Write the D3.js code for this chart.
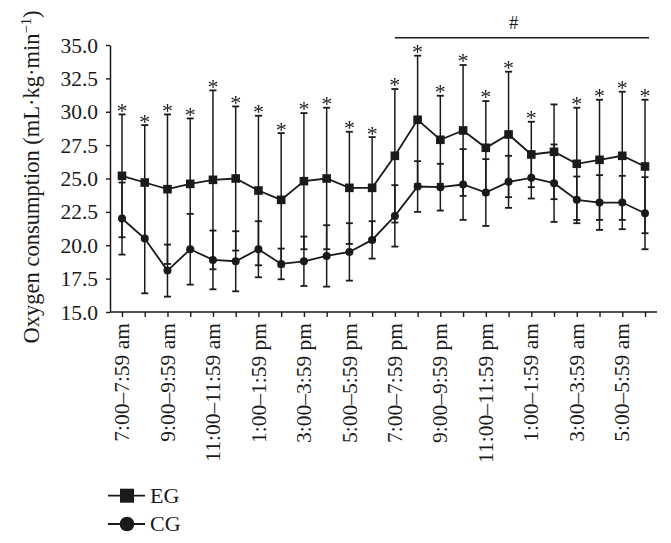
<!DOCTYPE html>
<html>
<head>
<meta charset="utf-8">
<script src="https://cdn.jsdelivr.net/npm/d3@7"></script>
<style>
  html, body { margin: 0; padding: 0; background: #fff; }
  svg { display: block; font-family: "Liberation Serif", "Times New Roman", serif; }
</style>
</head>
<body>
<svg id="chart" width="671" height="543"></svg>
<script>
// ---- data ----
const categories = [
  "7:00–7:59 am", "8:00–8:59 am", "9:00–9:59 am", "10:00–10:59 am",
  "11:00–11:59 am", "12:00–12:59 pm", "1:00–1:59 pm", "2:00–2:59 pm",
  "3:00–3:59 pm", "4:00–4:59 pm", "5:00–5:59 pm", "6:00–6:59 pm",
  "7:00–7:59 pm", "8:00–8:59 pm", "9:00–9:59 pm", "10:00–10:59 pm",
  "11:00–11:59 pm", "12:00–12:59 am", "1:00–1:59 am", "2:00–2:59 am",
  "3:00–3:59 am", "4:00–4:59 am", "5:00–5:59 am", "6:00–6:59 am"
];
const egMean = [25.2, 24.7, 24.2, 24.6, 24.9, 25.0, 24.1, 23.4, 24.8, 25.0, 24.3, 24.3,
                26.7, 29.4, 27.9, 28.6, 27.3, 28.3, 26.8, 27.0, 26.1, 26.4, 26.7, 25.9];
const egSD   = [4.6, 4.3, 5.6, 4.9, 6.7, 5.4, 5.6, 5.0, 5.1, 5.3, 4.2, 3.8,
                5.0, 4.8, 3.3, 4.9, 3.5, 4.7, 2.45, 3.55, 4.2, 4.5, 4.8, 5.0];
const cgMean = [22.0, 20.5, 18.1, 19.7, 18.9, 18.8, 19.7, 18.6, 18.8, 19.2, 19.5, 20.4,
                22.2, 24.4, 24.35, 24.55, 23.95, 24.75, 25.05, 24.65, 23.4, 23.2, 23.2, 22.4];
const cgSD   = [2.7, 4.1, 1.95, 2.65, 2.2, 2.25, 2.1, 1.15, 1.85, 2.3, 2.15, 1.4,
                2.3, 1.9, 1.75, 2.65, 2.5, 1.95, 1.55, 2.9, 1.75, 2.05, 2.0, 2.7];
const significant = [1, 1, 1, 1, 1, 1, 1, 1, 1, 1, 1, 1,
                     1, 1, 1, 1, 1, 1, 1, 0, 1, 1, 1, 1];
const yTicks = [15.0, 17.5, 20.0, 22.5, 25.0, 27.5, 30.0, 32.5, 35.0];
const nightStart = "7:00–7:59 pm";
const nightLabel = "#";
const seriesNames = ["EG", "CG"];

// ---- layout ----
const FONT = '"Liberation Serif", "Times New Roman", serif';
const svg = d3.select("#chart");
const ink = "#1a1a1a";
const x = d3.scalePoint().domain(categories).range([122, 645]);
const y = d3.scaleLinear().domain([15, 35]).range([312, 45]);
const axisLeftX = 110, axisRightX = 657;

// grayscale-rendering filter for small glyphs
const defs = svg.append("defs");
defs.append("filter").attr("id", "gray").attr("x", "-50%").attr("y", "-50%").attr("width", "200%").attr("height", "200%")
  .append("feOffset").attr("dx", 0).attr("dy", 0);

// axes
const yAxis = svg.append("g")
  .attr("transform", `translate(${axisLeftX},0)`)
  .call(d3.axisLeft(y).tickValues(yTicks).tickFormat(d3.format(".1f")).tickSize(4).tickPadding(8).tickSizeOuter(0))
  .attr("font-family", FONT);
yAxis.select(".domain").attr("stroke", ink).attr("stroke-width", 1.5);
yAxis.selectAll(".tick line").attr("stroke", ink).attr("stroke-width", 1.4);
yAxis.selectAll(".tick text").attr("font-size", 21.5).attr("fill", ink).attr("dy", "0.33em");

const xAxis = svg.append("g")
  .attr("transform", `translate(0,${y(15)})`)
  .call(d3.axisBottom(x).tickSize(5).tickSizeOuter(0)
    .tickFormat((d, i) => i % 2 === 0 ? d : ""))
  .attr("font-family", FONT);
xAxis.select(".domain").attr("d", `M${axisLeftX},0H${axisRightX}`).attr("stroke", ink).attr("stroke-width", 1.5);
xAxis.selectAll(".tick line").attr("stroke", ink).attr("stroke-width", 1.4);
xAxis.selectAll(".tick text")
  .attr("font-size", 21.5).attr("fill", ink)
  .attr("text-anchor", "end")
  .attr("transform", "rotate(-90)")
  .attr("x", -11).attr("y", 6.6).attr("dy", 0);

// y title
const title = svg.append("text")
  .attr("transform", "translate(38.5,177) rotate(-90)")
  .attr("text-anchor", "middle")
  .attr("font-size", 22.5).attr("fill", ink);
title.append("tspan").text("Oxygen consumption (mL·kg·min");
title.append("tspan").attr("font-size", 14.5).attr("dy", "-0.5em").text("−1");
title.append("tspan").attr("dy", "0.33em").text(")");

// error bars
function errorBars(mean, sd) {
  const g = svg.append("g").attr("stroke", ink).attr("stroke-width", 1.5).attr("fill", "none");
  categories.forEach((c, i) => {
    const cx = x(c), top = y(mean[i] + sd[i]), bot = y(mean[i] - sd[i]);
    g.append("line").attr("x1", cx).attr("x2", cx).attr("y1", top).attr("y2", bot);
    g.append("line").attr("x1", cx - 3.5).attr("x2", cx + 3.5).attr("y1", top).attr("y2", top).attr("stroke-width", 1.8);
    g.append("line").attr("x1", cx - 3.5).attr("x2", cx + 3.5).attr("y1", bot).attr("y2", bot).attr("stroke-width", 1.8);
  });
}
errorBars(egMean, egSD);
errorBars(cgMean, cgSD);

// lines
const line = d3.line().x((d, i) => x(categories[i])).y(d => y(d));
svg.append("path").attr("d", line(egMean)).attr("fill", "none").attr("stroke", ink).attr("stroke-width", 1.8);
svg.append("path").attr("d", line(cgMean)).attr("fill", "none").attr("stroke", ink).attr("stroke-width", 1.8);

// markers
svg.append("g").selectAll("rect").data(egMean).join("rect")
  .attr("x", (d, i) => x(categories[i]) - 4.3).attr("y", d => y(d) - 4.3)
  .attr("width", 8.6).attr("height", 8.6).attr("fill", ink);
svg.append("g").selectAll("circle").data(cgMean).join("circle")
  .attr("cx", (d, i) => x(categories[i])).attr("cy", d => y(d)).attr("r", 4).attr("fill", ink);

// significance stars
svg.append("g").attr("filter", "url(#gray)").selectAll("text").data(categories.filter((c, i) => significant[i]))
  .join("text")
  .attr("x", c => x(c))
  .attr("y", c => { const i = categories.indexOf(c); return y(egMean[i] + egSD[i]) + 3.4; })
  .attr("text-anchor", "middle").attr("font-size", 22).attr("fill", ink).text("*");

// night bar
svg.append("line")
  .attr("x1", x(nightStart)).attr("x2", x(categories[categories.length - 1]) + 4)
  .attr("y1", 37.7).attr("y2", 37.7).attr("stroke", ink).attr("stroke-width", 1.6);
svg.append("text").attr("x", 513.5).attr("y", 29.3).attr("text-anchor", "middle")
  .attr("font-size", 18.5).attr("fill", ink).text(nightLabel);

// legend
const legend = svg.append("g");
seriesNames.forEach((name, i) => {
  const ly = 495.7 + i * 28.3;
  legend.append("line").attr("x1", 108).attr("x2", 145).attr("y1", ly).attr("y2", ly)
    .attr("stroke", ink).attr("stroke-width", 1.8);
  if (i === 0) {
    legend.append("rect").attr("x", 127 - 7).attr("y", ly - 7).attr("width", 14).attr("height", 14).attr("fill", ink);
  } else {
    legend.append("circle").attr("cx", 127).attr("cy", ly).attr("r", 7.3).attr("fill", ink);
  }
  legend.append("text").attr("x", 150).attr("y", ly + 7).attr("font-size", 22).attr("fill", ink).text(name);
});
</script>
</body>
</html>
